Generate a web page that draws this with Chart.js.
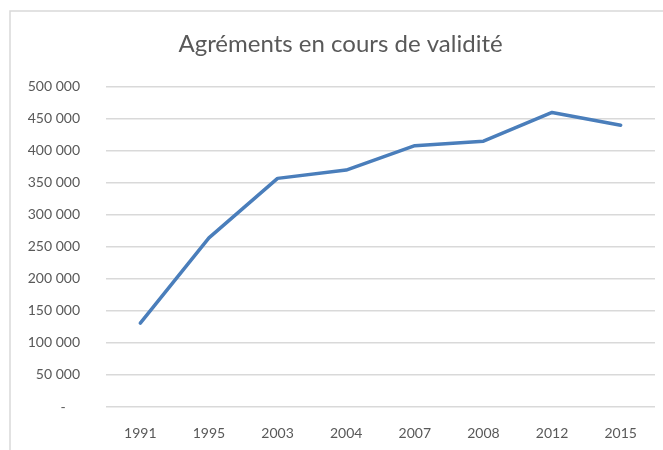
<!DOCTYPE html>
<html>
<head>
<meta charset="utf-8">
<script src="https://cdn.jsdelivr.net/npm/chart.js@4/dist/chart.umd.min.js"></script>
<style>
  body { margin: 0; background: #fff; }
  #wrap { width: 663px; height: 450px; position: relative; }
</style>
</head>
<body>
<div id="wrap"><canvas id="agrements"></canvas></div>
<script>
// Données
var annees = ['1991', '1995', '2003', '2004', '2007', '2008', '2012', '2015'];
var agrements = [131000, 264000, 357000, 370000, 408000, 415000, 460000, 440000];
var titre = 'Agréments en cours de validité';

var gris = '#595959';

// cadre gris autour du graphique (comme dans Excel)
var cadre = {
    id: 'cadre',
    beforeDraw: function(chart) {
        var ctx = chart.ctx;
        ctx.save();
        ctx.fillStyle = '#fff';
        ctx.fillRect(0, 0, chart.width, chart.height);
        ctx.strokeStyle = '#d9d9d9';
        ctx.lineWidth = 1.5;
        ctx.beginPath();
        ctx.moveTo(10, chart.height);
        ctx.lineTo(10, 11);
        ctx.lineTo(chart.width, 11);
        ctx.stroke();
        ctx.restore();
    }
};

function formatNombre(v) {
    if (v === 0) return '-    ';
    return String(v).replace(/\B(?=(\d{3})+(?!\d))/g, ' ');
}

var ctx = document.getElementById('agrements').getContext('2d');
var graphique = new Chart(ctx, {
    type: 'line',
    data: {
        labels: annees,
        datasets: [{
            label: 'Agréments',
            data: agrements,
            borderColor: '#4a7ebb',
            backgroundColor: '#4a7ebb',
            borderWidth: 3.5,
            pointRadius: 0,
            fill: false,
            tension: 0,
            borderCapStyle: 'round',
            borderJoinStyle: 'round'
        }]
    },
    options: {
        responsive: true,
        maintainAspectRatio: false,
        animation: false,
        layout: { padding: { left: 26, right: 8, top: 0, bottom: 0 } },
        plugins: {
            legend: { display: false },
            tooltip: { enabled: false },
            title: {
                display: true,
                text: titre,
                color: gris,
                font: { family: 'Lato', size: 24, weight: 'normal' },
                padding: { top: 30, bottom: 28 }
            }
        },
        scales: {
            x: {
                offset: true,
                grid: { display: false, drawTicks: false },
                border: { display: false },
                ticks: {
                    color: gris,
                    font: { family: 'Lato', size: 14 },
                    padding: 18,
                    maxRotation: 0
                },
                afterFit: function(scale) { scale.height = 43; }
            },
            y: {
                min: 0,
                max: 500000,
                grid: { color: '#d9d9d9', lineWidth: 1.5, drawTicks: false },
                border: { display: false },
                ticks: {
                    stepSize: 50000,
                    color: gris,
                    font: { family: 'Lato', size: 14 },
                    padding: 26,
                    callback: function(v) { return formatNombre(v); }
                },
                afterFit: function(scale) { scale.width = 80; }
            }
        }
    },
    plugins: [cadre]
});
</script>
</body>
</html>
